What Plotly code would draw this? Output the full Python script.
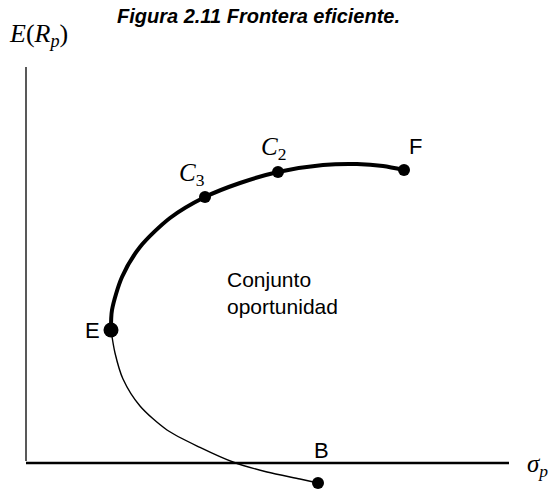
import plotly.graph_objects as go

# Efficient frontier (upper, thick): sigma_p, E(R_p)
sigma_upper = [4.25, 4.3, 4.8, 5.7, 7.2, 8.95, 10.7, 12.6, 14.85, 16.55, 17.85, 18.9]
ret_upper = [6.65, 7.65, 9.3, 10.8, 12.25, 13.3, 14.0, 14.55, 14.9, 14.95, 14.85, 14.65]

# Lower (inefficient) branch, thin
sigma_lower = [4.25, 4.45, 4.85, 5.7, 7.05, 8.7, 10.35, 12.05, 13.7, 14.6]
ret_lower = [6.65, 5.5, 4.2, 2.85, 1.65, 0.78, 0.05, -0.45, -0.8, -1.0]

# Labelled portfolios
point_names = ["E", "C3", "C2", "F", "B"]
point_labels = ["E", "<i>C</i><sub>3</sub>", "<i>C</i><sub>2</sub>", "F", "B"]
point_sigma = [4.25, 8.95, 12.6, 18.9, 14.6]
point_ret = [6.65, 13.3, 14.55, 14.65, -1.0]
point_size = [15, 12, 12, 12, 12]
label_dx = [-19, -13, -5, 11, 3]
label_dy = [0, 23, 24, 24, 33]
label_font = ["Liberation Sans", "Liberation Serif", "Liberation Serif", "Liberation Sans", "Liberation Sans"]
label_size = [22, 25, 25, 22, 22]

axis_y_top = 19.8
axis_x_end = 24.15

fig = go.Figure()

fig.add_trace(go.Scatter(x=sigma_lower, y=ret_lower, mode="lines",
                         line=dict(color="black", width=1.4, shape="spline", smoothing=0.8),
                         hoverinfo="skip", showlegend=False))
fig.add_trace(go.Scatter(x=sigma_upper, y=ret_upper, mode="lines",
                         line=dict(color="black", width=4, shape="spline", smoothing=0.8),
                         hoverinfo="skip", showlegend=False))
fig.add_trace(go.Scatter(x=point_sigma, y=point_ret, mode="markers",
                         marker=dict(color="black", size=point_size, opacity=1,
                                     line=dict(width=0)),
                         text=point_names, showlegend=False))

# axes lines
fig.add_shape(type="line", x0=0, x1=0, y0=0.1, y1=axis_y_top, xref="x", yref="y",
              line=dict(color="#595959", width=2))
fig.add_shape(type="line", x0=0, x1=axis_x_end, y0=0, y1=0, xref="x", yref="y",
              line=dict(color="black", width=2.5))

for lab, sx, sy, dx, dy, fnt, fs in zip(point_labels, point_sigma, point_ret, label_dx,
                                        label_dy, label_font, label_size):
    fig.add_annotation(x=sx, y=sy, text=lab, showarrow=False, xshift=dx, yshift=dy,
                       xanchor="center", yanchor="middle",
                       font=dict(family=fnt, size=fs, color="black"))

fig.add_annotation(x=9.95, y=8.5, text="Conjunto<br>oportunidad", showarrow=False,
                   xanchor="left", yanchor="middle", align="left",
                   font=dict(family="Liberation Sans", size=21, color="black"))

fig.add_annotation(xref="paper", yref="paper", x=38/555, y=1-35/489,
                   text="<i>E</i>(<i>R</i><sub><i>p</i></sub>)", showarrow=False,
                   xanchor="center", yanchor="middle",
                   font=dict(family="Liberation Serif", size=26, color="black"))
fig.add_annotation(x=axis_x_end, y=0, text="<i>σ</i><sub><i>p</i></sub>", showarrow=False,
                   xanchor="left", xshift=16, yanchor="middle", yshift=-2,
                   font=dict(family="Liberation Serif", size=25, color="black"))

fig.add_annotation(xref="paper", yref="paper", x=258.5/555, y=1-16/489,
                   text="<b><i>Figura 2.11 Frontera eficiente.</i></b>", showarrow=False,
                   xanchor="center", yanchor="middle",
                   font=dict(family="Liberation Sans", size=20, color="black"))

fig.update_layout(
    width=555, height=489,
    margin=dict(l=0, r=0, t=0, b=0),
    plot_bgcolor="white", paper_bgcolor="white",
    xaxis=dict(range=[-1.3, 26.45], visible=False, fixedrange=True),
    yaxis=dict(range=[-1.3, 23.15], visible=False, fixedrange=True),
)

fig.write_html("out.html", config={"displayModeBar": False},
               post_script="document.body.style.margin='0';document.body.style.overflow='hidden';")
